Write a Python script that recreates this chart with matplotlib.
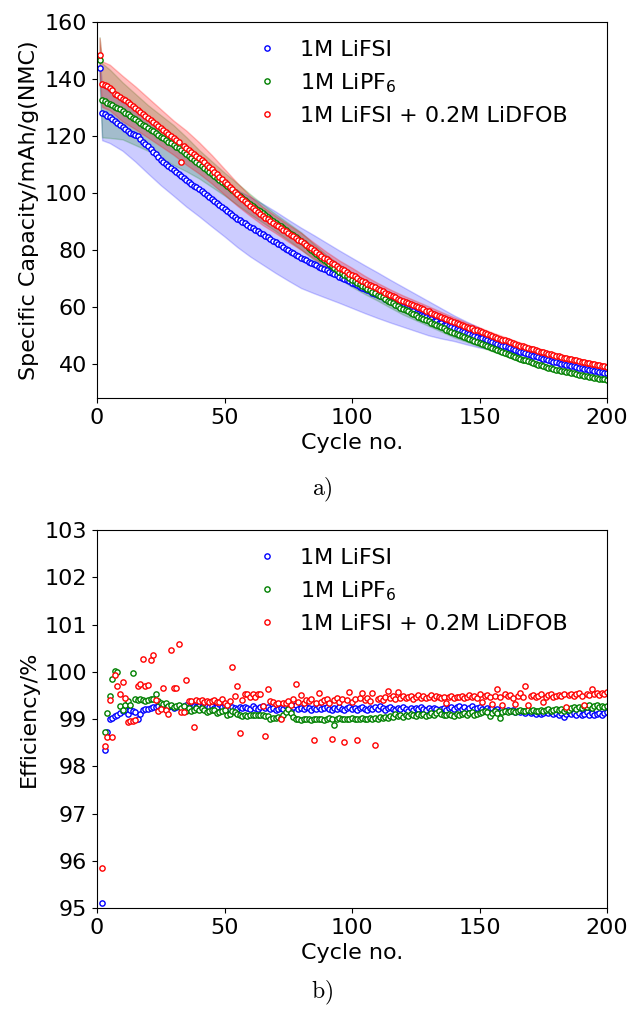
import numpy as np
import matplotlib
matplotlib.use("Agg")
import matplotlib.pyplot as plt

# ---- capacity data (cycles 1..200) ----
cycles_cap = list(range(1, 201))

cap_lifsi = [144.0, 128.0, 127.6, 127.1, 126.5, 125.9, 125.3, 124.6, 124.0, 123.3,
             122.5, 121.7, 121.0, 120.7, 120.5, 120.1, 119.0, 118.0, 117.1, 116.3,
             115.4, 114.5, 113.6, 112.6, 111.7, 110.8, 110.1, 109.4, 108.7, 108.0,
             107.3, 106.6, 105.9, 105.2, 104.5, 103.9, 103.2, 102.5, 101.9, 101.2,
             100.5, 99.8, 99.1, 98.4, 97.7, 97.0, 96.3, 95.6, 94.9, 94.2,
             93.5, 92.8, 92.1, 91.5, 91.0, 90.4, 89.9, 89.3, 88.8, 88.2,
             87.7, 87.1, 86.6, 86.0, 85.5, 84.9, 84.4, 83.8, 83.2, 82.7,
             82.1, 81.6, 81.0, 80.4, 79.9, 79.3, 78.8, 78.2, 77.7, 77.2,
             76.8, 76.3, 75.9, 75.5, 75.0, 74.6, 74.1, 73.7, 73.3, 72.8,
             72.4, 71.9, 71.5, 71.1, 70.6, 70.2, 69.7, 69.3, 68.9, 68.4,
             68.0, 67.6, 67.1, 66.7, 66.2, 65.8, 65.4, 64.9, 64.5, 64.1,
             63.7, 63.3, 62.8, 62.4, 62.0, 61.6, 61.2, 60.8, 60.4, 60.0,
             59.6, 59.2, 58.8, 58.4, 58.0, 57.6, 57.2, 56.8, 56.4, 56.0,
             55.6, 55.2, 54.9, 54.5, 54.2, 53.8, 53.5, 53.2, 52.8, 52.5,
             52.2, 51.8, 51.5, 51.2, 50.8, 50.5, 50.2, 49.8, 49.5, 49.2,
             48.9, 48.6, 48.3, 48.0, 47.6, 47.3, 47.0, 46.7, 46.4, 46.1,
             45.8, 45.4, 45.1, 44.8, 44.5, 44.3, 44.0, 43.7, 43.4, 43.2,
             42.9, 42.6, 42.4, 42.1, 41.8, 41.6, 41.3, 41.0, 40.8, 40.5,
             40.3, 40.1, 39.9, 39.7, 39.5, 39.3, 39.1, 38.9, 38.7, 38.5,
             38.3, 38.1, 37.9, 37.7, 37.5, 37.4, 37.2, 37.0, 36.8, 36.6]

cap_lipf6 = [146.7, 132.5, 132.1, 131.7, 131.3, 130.8, 130.3, 129.8, 129.3, 128.8,
             128.2, 127.6, 127.0, 126.4, 125.8, 125.2, 124.6, 124.0, 123.4, 122.8,
             122.2, 121.6, 121.0, 120.4, 119.8, 119.2, 118.6, 118.0, 117.4, 116.8,
             116.2, 115.6, 114.9, 114.3, 113.6, 112.9, 112.2, 111.5, 110.8, 110.1,
             109.4, 108.7, 108.0, 107.3, 106.6, 105.9, 105.2, 104.5, 103.8, 103.1,
             102.4, 101.7, 101.0, 100.3, 99.6, 98.9, 98.2, 97.5, 96.8, 96.1,
             95.4, 94.8, 94.1, 93.5, 92.8, 92.2, 91.5, 90.9, 90.2, 89.6,
             88.9, 88.3, 87.7, 87.0, 86.4, 85.7, 85.1, 84.5, 83.8, 83.2,
             82.4, 81.6, 80.8, 80.0, 79.3, 78.5, 77.7, 77.0, 76.3, 75.6,
             74.9, 74.2, 73.6, 73.0, 72.4, 71.8, 71.2, 70.7, 70.1, 69.5,
             69.0, 68.4, 67.9, 67.3, 66.8, 66.3, 65.8, 65.3, 64.8, 64.3,
             63.8, 63.3, 62.7, 62.2, 61.7, 61.2, 60.7, 60.2, 59.7, 59.3,
             58.8, 58.4, 57.9, 57.5, 57.1, 56.6, 56.2, 55.8, 55.3, 54.9,
             54.5, 54.0, 53.6, 53.2, 52.8, 52.4, 51.9, 51.5, 51.2, 50.8,
             50.5, 50.1, 49.8, 49.4, 49.1, 48.7, 48.4, 48.0, 47.7, 47.3,
             47.0, 46.6, 46.3, 45.9, 45.6, 45.2, 44.9, 44.5, 44.2, 43.8,
             43.5, 43.1, 42.8, 42.4, 42.1, 41.8, 41.5, 41.2, 40.9, 40.6,
             40.3, 40.0, 39.7, 39.5, 39.2, 39.0, 38.7, 38.5, 38.2, 38.0,
             37.8, 37.6, 37.4, 37.2, 37.0, 36.8, 36.6, 36.4, 36.2, 36.0,
             35.8, 35.6, 35.4, 35.2, 35.1, 34.9, 34.8, 34.6, 34.5, 34.3]

cap_dfob = [148.4, 138.2, 138.0, 137.6, 137.0, 136.0, 134.8, 134.2, 133.7, 133.1,
            132.5, 131.9, 131.3, 130.6, 129.9, 129.2, 128.5, 127.8, 127.1, 126.4,
            125.7, 125.0, 124.3, 123.6, 122.9, 122.2, 121.5, 120.8, 120.1, 119.4,
            118.7, 118.0, 111.0, 116.6, 115.9, 115.2, 114.5, 113.8, 113.1, 112.3,
            111.5, 110.7, 109.9, 109.1, 108.3, 107.5, 106.6, 105.7, 104.8, 103.9,
            103.0, 102.1, 101.2, 100.3, 99.5, 98.7, 97.9, 97.1, 96.3, 95.5,
            94.8, 94.0, 93.3, 92.6, 91.9, 91.3, 90.7, 90.1, 89.5, 88.9,
            88.3, 87.7, 87.1, 86.5, 85.9, 85.3, 84.7, 84.1, 83.5, 83.0,
            82.4, 81.7, 81.1, 80.5, 79.8, 79.2, 78.6, 77.9, 77.3, 76.7,
            76.0, 75.4, 74.9, 74.3, 73.8, 73.3, 72.8, 72.2, 71.7, 71.2,
            70.7, 70.1, 69.6, 69.1, 68.6, 68.1, 67.7, 67.2, 66.8, 66.3,
            65.9, 65.5, 65.0, 64.6, 64.1, 63.7, 63.3, 62.8, 62.4, 62.0,
            61.7, 61.3, 60.9, 60.6, 60.2, 59.8, 59.5, 59.1, 58.7, 58.4,
            58.0, 57.6, 57.2, 56.9, 56.5, 56.1, 55.8, 55.4, 55.1, 54.7,
            54.4, 54.0, 53.7, 53.4, 53.0, 52.7, 52.4, 52.0, 51.7, 51.4,
            51.0, 50.7, 50.4, 50.1, 49.7, 49.4, 49.1, 48.8, 48.5, 48.2,
            47.9, 47.6, 47.3, 47.0, 46.7, 46.4, 46.1, 45.9, 45.6, 45.3,
            45.1, 44.8, 44.6, 44.3, 44.1, 43.8, 43.6, 43.4, 43.1, 42.9,
            42.7, 42.5, 42.2, 42.0, 41.8, 41.6, 41.4, 41.2, 41.0, 40.8,
            40.6, 40.4, 40.3, 40.1, 39.9, 39.7, 39.6, 39.4, 39.2, 39.0]

# spread (std) of the cells, read at these cycles
band_cycles = [1, 2, 5, 10, 15, 20, 25, 30, 35, 40, 45, 50, 55, 60, 65, 70, 75, 80,
               85, 90, 95, 100, 105, 110, 115, 120, 125, 130, 135, 140, 145, 150,
               155, 160, 165, 170, 175, 180, 185, 190, 195, 200]
sd_lifsi = [3.0, 9.5, 9.0, 8.5, 9.5, 9.5, 9.0, 9.0, 9.3, 9.4, 9.5, 9.5, 10.0, 10.5,
            10.7, 10.8, 10.7, 10.6, 10.2, 9.7, 9.2, 8.8, 8.4, 8.0, 7.5, 7.0, 6.5,
            6.0, 5.3, 4.5, 4.0, 3.5, 2.6, 1.8, 1.2, 0.9, 0.8, 0.7, 0.6, 0.6, 0.5, 0.5]
sd_lipf6 = [8.0, 13.0, 12.0, 10.0, 9.0, 8.0, 7.5, 7.0, 6.0, 5.0, 4.5, 4.0, 3.8, 3.5,
            3.2, 3.0, 3.0, 3.0, 2.8, 2.6, 2.5, 2.5, 2.3, 2.1, 2.0, 2.0, 1.8, 1.6,
            1.5, 1.5, 1.4, 1.3, 1.2, 1.0, 0.9, 0.8, 0.7, 0.6, 0.6, 0.5, 0.5, 0.5]
sd_dfob = [6.0, 8.0, 8.0, 8.0, 7.5, 7.0, 6.5, 6.0, 6.0, 5.5, 5.0, 4.5, 4.0, 3.5,
           3.2, 3.0, 3.0, 3.0, 2.8, 2.6, 2.5, 2.5, 2.3, 2.1, 2.0, 2.0, 1.9, 1.8,
           1.7, 1.6, 1.5, 1.4, 1.3, 1.2, 1.1, 1.0, 0.9, 0.9, 0.8, 0.8, 0.8, 0.8]

# ---- coulombic efficiency (cycles 2..200) ----
cycles_eff = list(range(2, 201))

eff_lifsi = [95.10, 98.35, 98.72, 98.99, 99.03, 99.06, 99.09, 99.13, 99.18,
             99.19, 99.11, 99.20, 99.16, 99.14, 99.00, 99.10, 99.20, 99.22, 99.22,
             99.24, 99.26, 99.25, 99.27, 99.24, 99.26, 99.28, 99.25, 99.27, 99.24,
             99.26, 99.28, 99.25, 99.27, 99.29, 99.26, 99.24, 99.27, 99.25, 99.28,
             99.26, 99.23, 99.27, 99.25, 99.28, 99.24, 99.26, 99.32, 99.25, 99.27,
             99.24, 99.22, 99.26, 99.24, 99.22, 99.25, 99.23, 99.26, 99.24, 99.22,
             99.27, 99.24, 99.22, 99.25, 99.28, 99.23, 99.25, 99.22, 99.24, 99.20,
             99.22, 99.24, 99.21, 99.27, 99.23, 99.20, 99.25, 99.30, 99.22, 99.24,
             99.21, 99.26, 99.23, 99.20, 99.24, 99.22, 99.25, 99.21, 99.23, 99.26,
             99.22, 99.20, 99.24, 99.21, 99.25, 99.22, 99.19, 99.23, 99.26, 99.21,
             99.24, 99.20, 99.23, 99.26, 99.22, 99.19, 99.24, 99.21, 99.25, 99.22,
             99.27, 99.23, 99.20, 99.24, 99.26, 99.22, 99.19, 99.23, 99.21, 99.25,
             99.22, 99.18, 99.23, 99.20, 99.24, 99.21, 99.25, 99.22, 99.19, 99.23,
             99.20, 99.24, 99.22, 99.18, 99.21, 99.24, 99.20, 99.23, 99.26, 99.21,
             99.25, 99.28, 99.22, 99.25, 99.20, 99.23, 99.27, 99.21, 99.24, 99.26,
             99.22, 99.19, 99.23, 99.21, 99.24, 99.20, 99.22, 99.18, 99.21, 99.17,
             99.20, 99.16, 99.19, 99.15, 99.18, 99.14, 99.17, 99.13, 99.16, 99.12,
             99.15, 99.11, 99.14, 99.10, 99.13, 99.16, 99.12, 99.14, 99.10, 99.13,
             99.09, 99.12, 99.04, 99.11, 99.14, 99.10, 99.13, 99.09, 99.12, 99.08,
             99.11, 99.14, 99.09, 99.12, 99.08, 99.11, 99.13, 99.09, 99.12, 99.15]

eff_lipf6 = [np.nan, 98.72, 99.13, 99.48, 99.84, 100.02, 99.99, 99.28, 99.20,
             99.30, 99.38, 99.30, 99.97, 99.42, 99.41, 99.42, 99.41, 99.39, 99.41,
             99.42, 99.42, 99.53, 99.38, 99.34, 99.31, 99.34, 99.27, 99.30, 99.25,
             99.28, 99.30, 99.23, 99.27, 99.18, 99.23, 99.18, 99.20, 99.23, 99.20,
             99.23, 99.20, 99.15, 99.18, 99.19, 99.20, 99.13, 99.15, 99.16, 99.20,
             99.09, 99.11, 99.16, 99.14, 99.10, 99.08, 99.06, 99.08, 99.06, 99.08,
             99.08, 99.08, 99.08, 99.08, 99.08, 99.06, 99.07, 99.00, 99.03, 99.02,
             99.04, 99.02, 99.08, 99.15, 99.21, 99.12, 99.04, 98.99, 99.00, 98.98,
             99.00, 98.99, 99.00, 98.98, 99.00, 99.01, 98.99, 99.00, 98.98, 99.00,
             99.02, 98.99, 98.88, 99.00, 99.03, 98.99, 99.01, 99.00, 98.99, 99.02,
             99.00, 99.01, 98.99, 99.02, 99.00, 99.01, 99.03, 98.99, 99.02, 99.00,
             99.04, 99.02, 99.05, 99.03, 99.06, 99.05, 99.10, 99.06, 99.08, 99.05,
             99.09, 99.07, 99.10, 99.08, 99.06, 99.10, 99.08, 99.11, 99.07, 99.09,
             99.12, 99.08, 99.13, 99.18, 99.10, 99.09, 99.08, 99.10, 99.09, 99.07,
             99.11, 99.08, 99.10, 99.13, 99.09, 99.12, 99.14, 99.08, 99.10, 99.12,
             99.15, 99.18, 99.14, 99.06, 99.12, 99.16, 99.13, 99.02, 99.14, 99.17,
             99.15, 99.18, 99.16, 99.14, 99.17, 99.19, 99.16, 99.18, 99.20, 99.17,
             99.19, 99.16, 99.18, 99.20, 99.17, 99.19, 99.21, 99.18, 99.20, 99.22,
             99.19, 99.21, 99.18, 99.22, 99.20, 99.23, 99.25, 99.22, 99.26, 99.24,
             99.27, 99.25, 99.29, 99.24, 99.27, 99.30, 99.26, 99.28, 99.25, 99.27]

eff_dfob = [95.85, 98.42, 98.61, 99.41, 98.63, 99.94, 99.69, 99.53, 99.78,
            99.44, 98.94, 98.95, 98.96, 98.98, 99.69, 99.74, 100.27, 99.69, 99.71,
            100.24, 100.36, 99.41, 99.16, 99.21, 99.65, 99.20, 99.11, 100.47, 99.65,
            99.65, 100.59, 99.14, 99.14, 99.83, 99.39, 99.39, 98.83, 99.40, 99.38,
            99.40, 99.37, 99.39, 99.36, 99.38, 99.40, 99.35, 99.37, 99.42, 99.33,
            99.30, 99.38, 100.10, 99.48, 99.69, 98.70, 99.40, 99.53, 99.54, 99.47,
            99.54, 99.47, 99.54, 99.54, 99.28, 98.65, 99.64, 99.39, 99.35, 99.32,
            99.33, 99.00, 99.34, 99.33, 99.38, 99.30, 99.42, 99.75, 99.36, 99.51,
            99.33, 99.40, 99.38, 99.42, 98.56, 99.34, 99.55, 99.36, 99.40, 99.43,
            99.33, 98.58, 99.40, 99.45, 99.36, 99.42, 98.51, 99.40, 99.58, 99.37,
            99.42, 98.55, 99.44, 99.56, 99.40, 99.45, 99.38, 99.55, 98.46, 99.43,
            99.45, 99.40, 99.47, 99.60, 99.44, 99.48, 99.42, 99.57, 99.45, 99.48,
            99.44, 99.46, 99.49, 99.43, 99.47, 99.50, 99.45, 99.48, 99.44, 99.47,
            99.50, 99.45, 99.48, 99.46, 99.44, 99.47, 99.34, 99.46, 99.48, 99.45,
            99.47, 99.46, 99.49, 99.45, 99.47, 99.50, 99.46, 99.48, 99.44, 99.53,
            99.35, 99.48, 99.50, 99.46, 99.32, 99.49, 99.63, 99.47, 99.30, 99.52,
            99.48, 99.50, 99.45, 99.32, 99.49, 99.55, 99.47, 99.69, 99.30, 99.48,
            99.50, 99.46, 99.49, 99.52, 99.35, 99.47, 99.50, 99.53, 99.46, 99.48,
            99.51, 99.49, 99.54, 99.25, 99.50, 99.53, 99.48, 99.52, 99.55, 99.49,
            99.30, 99.53, 99.50, 99.63, 99.52, 99.55, 99.51, 99.56, 99.54, 99.58]

labels = ["1M LiFSI", "1M LiPF$_6$", "1M LiFSI + 0.2M LiDFOB"]
colors = ["b", "g", "r"]
band_alpha = [0.2, 0.2, 0.25]

FS = 16
mk = dict(marker="o", linestyle="none", markersize=3.8, markeredgewidth=1.0,
          markerfacecolor="white")

fig = plt.figure(figsize=(6.3, 10.14), dpi=100)
ax1 = fig.add_axes([0.154, 0.6075, 0.8095, 0.3708])
ax2 = fig.add_axes([0.154, 0.1045, 0.8095, 0.3728])

# ---- a) capacity ----
bc = np.array(band_cycles)
for cap, sd, c, a in zip([cap_lifsi, cap_lipf6, cap_dfob],
                         [sd_lifsi, sd_lipf6, sd_dfob], colors, band_alpha):
    mean = np.array(cap)[bc - 1]
    ax1.fill_between(bc, mean - np.array(sd), mean + np.array(sd),
                     color=c, alpha=a)
for cap, c, lab in zip([cap_lifsi, cap_lipf6, cap_dfob], colors, labels):
    ax1.plot(cycles_cap, cap, color=c, markeredgecolor=c, label=lab, **mk)

ax1.set_xlim(0, 200)
ax1.set_ylim(28, 160)
ax1.set_yticks([40, 60, 80, 100, 120, 140, 160])
ax1.set_xticks([0, 50, 100, 150, 200])
ax1.set_xlabel("Cycle no.", fontsize=FS)
ax1.set_ylabel("Specific Capacity/mAh/g(NMC)", fontsize=FS)
ax1.tick_params(labelsize=FS)

# ---- b) efficiency ----
for eff, c, lab in zip([eff_lifsi, eff_lipf6, eff_dfob], colors, labels):
    ax2.plot(cycles_eff, eff, color=c, markeredgecolor=c, label=lab, **mk)

ax2.set_xlim(0, 200)
ax2.set_ylim(95, 103)
ax2.set_yticks(range(95, 104))
ax2.set_xticks([0, 50, 100, 150, 200])
ax2.set_xlabel("Cycle no.", fontsize=FS)
ax2.set_ylabel("Efficiency/%", fontsize=FS)
ax2.tick_params(labelsize=FS)

for ax in (ax1, ax2):
    ax.legend(loc="upper left", bbox_to_anchor=(0.285, 0.976), borderaxespad=0,
              frameon=False, fontsize=FS, handlelength=1.4, handletextpad=0.8,
              numpoints=1)

fig.text(0.511, 1 - 490 / 1014, r"$\mathrm{a)}$", math_fontfamily="cm",
         fontsize=FS + 1, ha="center", va="center")
fig.text(0.511, 1 - 993 / 1014, r"$\mathrm{b)}$", math_fontfamily="cm",
         fontsize=FS + 1, ha="center", va="center")

fig.savefig("out.png", dpi=100)
